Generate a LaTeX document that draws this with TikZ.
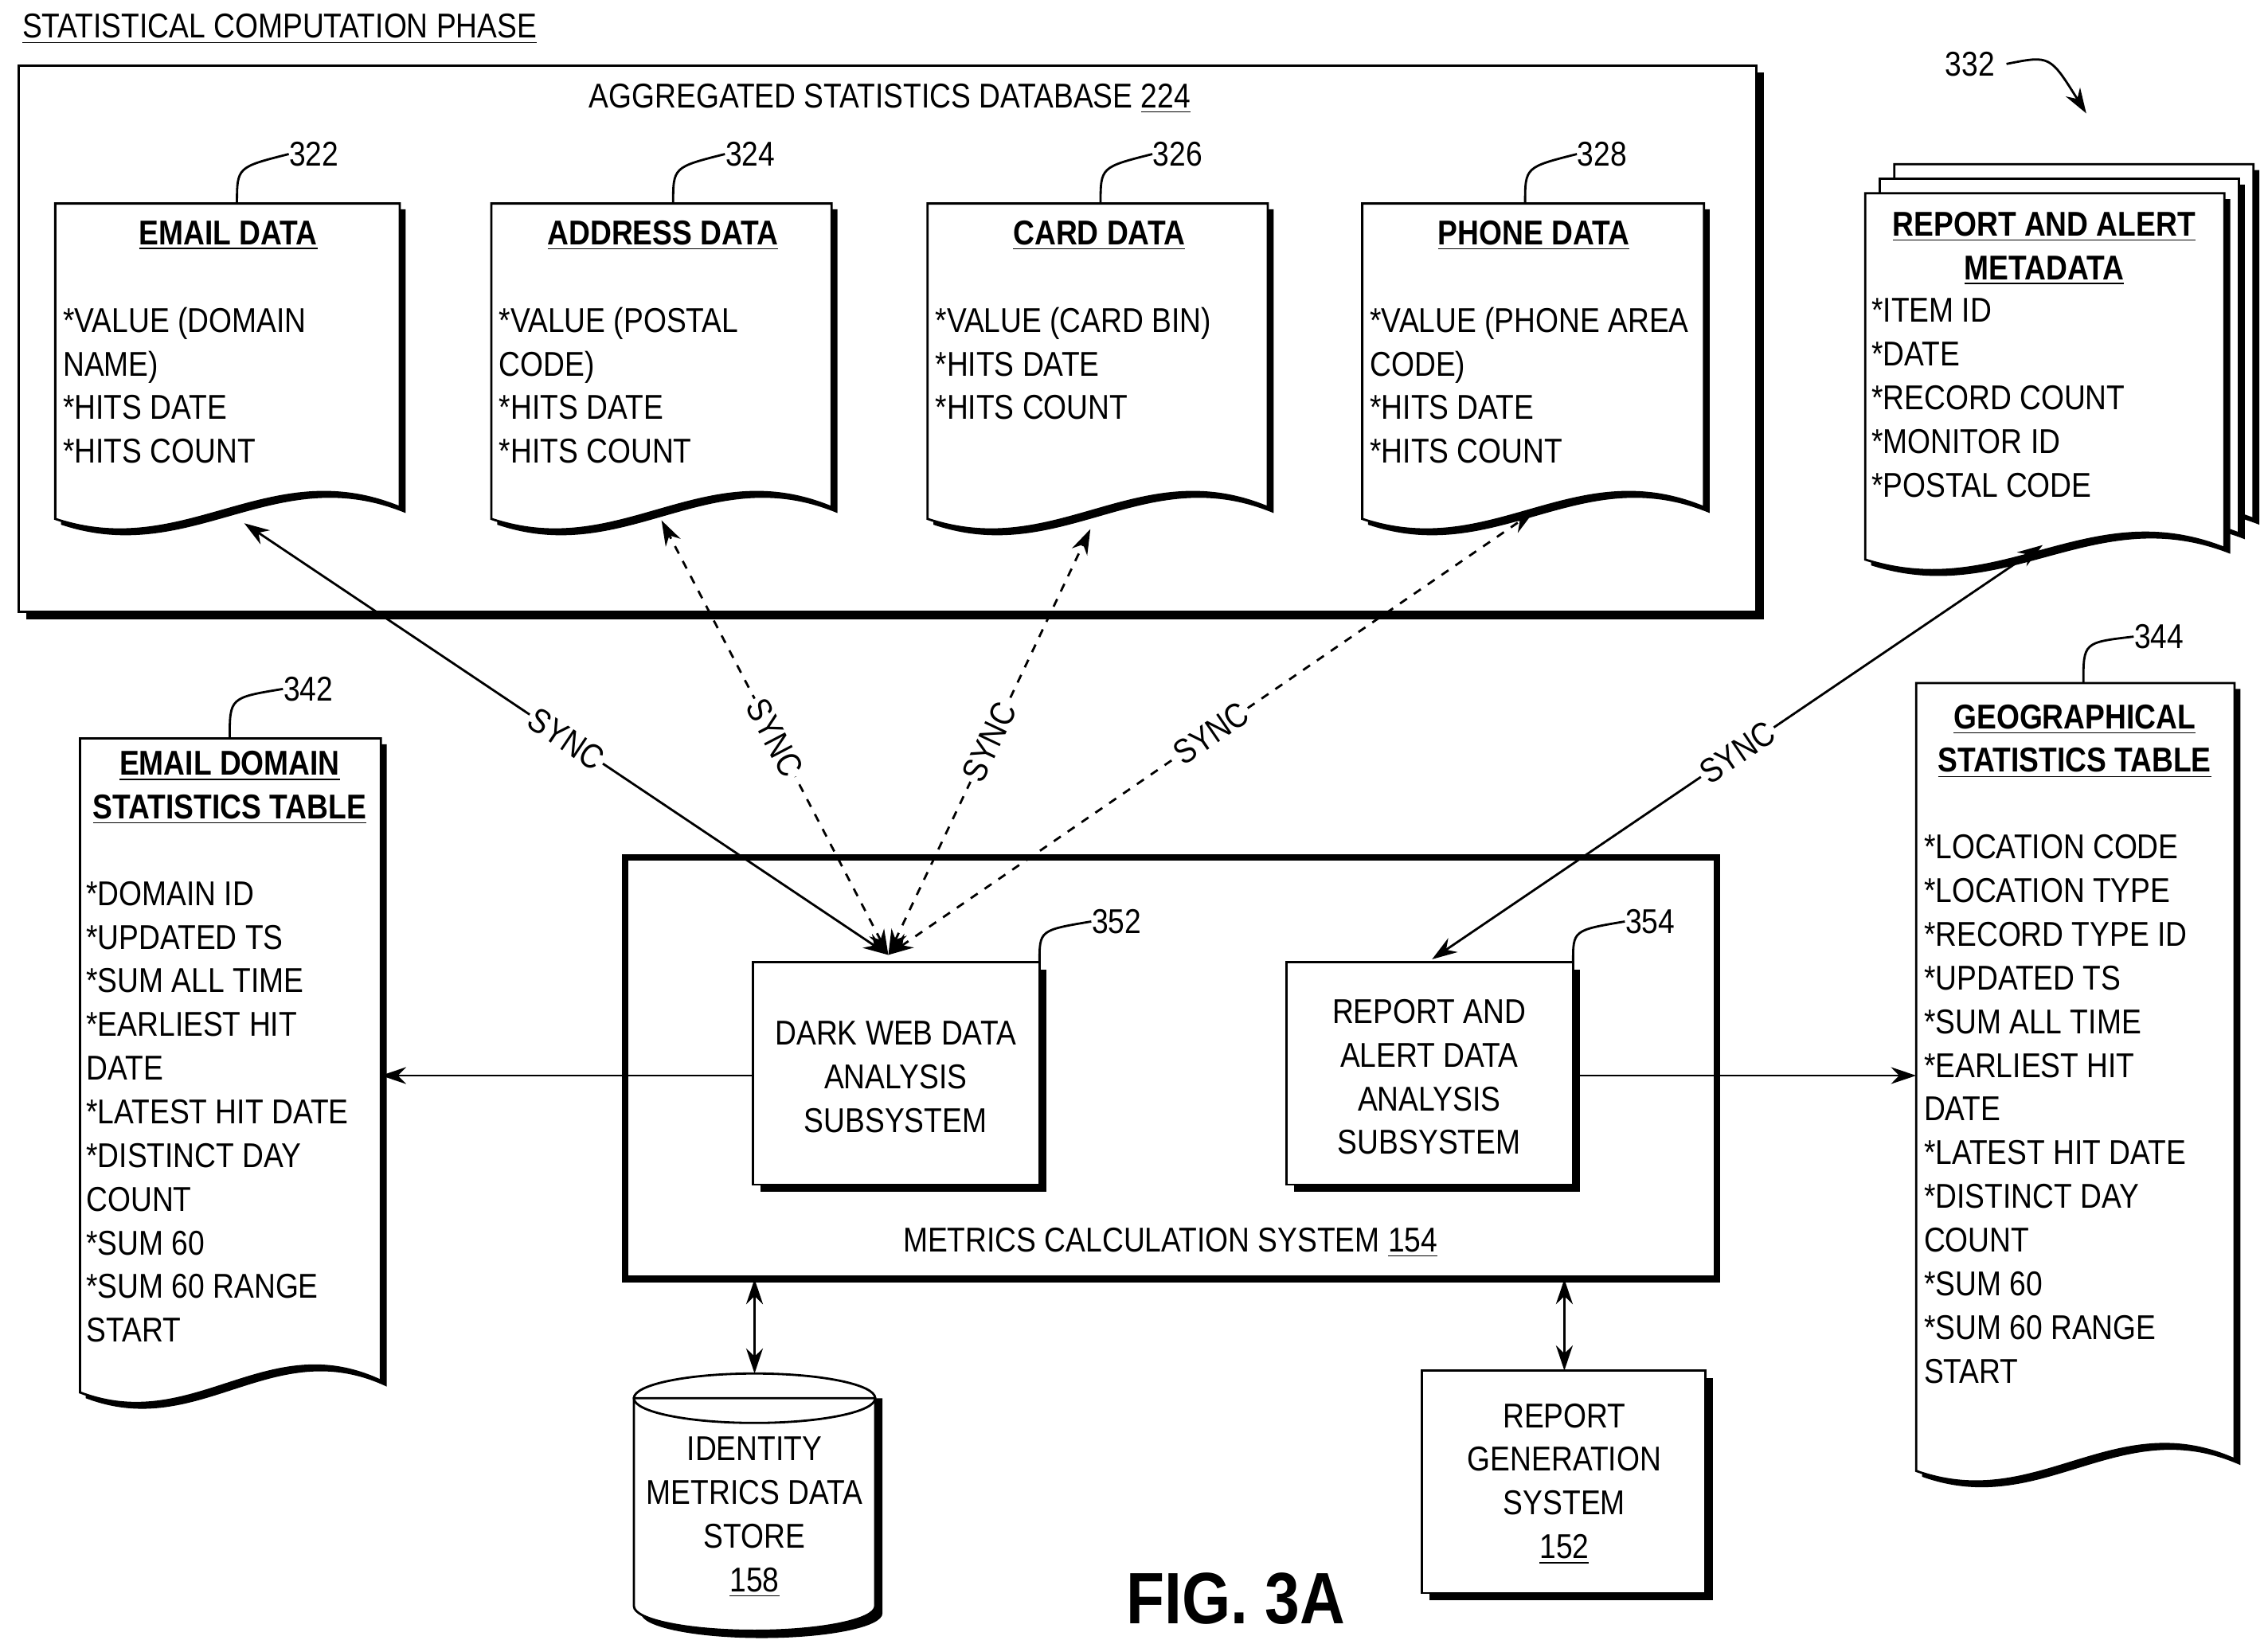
\documentclass[tikz,border=0pt]{standalone}
\usepackage{fontspec}
\setmainfont{Liberation Sans}[FakeStretch=0.86]
\usetikzlibrary{arrows.meta,positioning}

\tikzset{
	txt/.style={inner sep=0pt,font=\fontsize{12.3pt}{15.6pt}\selectfont},
	body/.style={txt,align=left,anchor=north west},
	ttl/.style={txt,align=center,font=\fontsize{12.3pt}{15.6pt}\selectfont\bfseries},
	line/.style={line width=0.8pt},
	link/.style={line,{Stealth[length=9pt,width=6pt]}-{Stealth[length=9pt,width=6pt]}},
	arr/.style={line,-{Stealth[length=9pt,width=6pt]}},
	sync/.style={txt,sloped,fill=white,inner sep=1pt,pos=0.5}
}

% document sheet with wavy bottom and shadow
\newcommand{\docsheet}[4]{%
	\fill[black,shift={(4,4)}] (#1,#2) -- (#3,#2) -- (#3,#4-8) .. controls ({#1+0.62*(#3-#1)},{#4-45}) and ({#1+0.38*(#3-#1)},{#4+30}) .. (#1,#4) -- cycle;
	\filldraw[fill=white,line] (#1,#2) -- (#3,#2) -- (#3,#4-8) .. controls ({#1+0.62*(#3-#1)},{#4-45}) and ({#1+0.38*(#3-#1)},{#4+30}) .. (#1,#4) -- cycle;
}
\newcommand{\shadowbox}[5]{%
	\fill[black] (#1+5,#2+5) rectangle (#3+5,#4+5);
	\filldraw[fill=white,line width=#5] (#1,#2) rectangle (#3,#4);
}

\begin{document}
\begin{tikzpicture}[x=0.018256cm,y=-0.018256cm]
	\useasboundingbox (0,0) rectangle (1560,1128);

	%title
	\node[txt,anchor=west] (phase) at (15,20) {\underline{STATISTICAL COMPUTATION PHASE}};

	%database box
	\shadowbox{13}{45}{1208}{421}{0.8pt}
	\node[txt] (db) at (612,68) {AGGREGATED STATISTICS DATABASE \underline{224}};

	%documents
	\docsheet{38}{140}{275}{357}
	\docsheet{338}{140}{572}{357}
	\docsheet{638}{140}{872}{357}
	\docsheet{937}{140}{1172}{357}
	\node[ttl] (email) at (157,162) {\underline{EMAIL DATA}};
	\node[ttl] (address) at (456,162) {\underline{ADDRESS DATA}};
	\node[ttl] (card) at (756,162) {\underline{CARD DATA}};
	\node[ttl] (phone) at (1055,162) {\underline{PHONE DATA}};
	\node[body] (emailb) at (43,211) {*VALUE (DOMAIN\\NAME)\\*HITS DATE\\*HITS COUNT};
	\node[body] (addressb) at (343,211) {*VALUE (POSTAL\\CODE)\\*HITS DATE\\*HITS COUNT};
	\node[body] (cardb) at (643,211) {*VALUE (CARD BIN)\\*HITS DATE\\*HITS COUNT};
	\node[body] (phoneb) at (942,211) {*VALUE (PHONE AREA\\CODE)\\*HITS DATE\\*HITS COUNT};

	%reference numerals
	\node[txt] (n322) at (216,106) {322};
	\node[txt] (n324) at (516,106) {324};
	\node[txt] (n326) at (810,106) {326};
	\node[txt] (n328) at (1102,106) {328};
	\draw[line] (163,140) .. controls (163,115) .. (n322.west);
	\draw[line] (463,140) .. controls (463,115) .. (n324.west);
	\draw[line] (757,140) .. controls (757,115) .. (n326.west);
	\draw[line] (1049,140) .. controls (1049,115) .. (n328.west);

	%report and alert metadata stack
	\docsheet{1303}{113}{1550}{365}
	\docsheet{1293}{123}{1540}{375}
	\docsheet{1283}{133}{1530}{385}
	\node[ttl] (meta) at (1406,171) {\underline{REPORT AND ALERT}\\\underline{METADATA}};
	\node[body] (metab) at (1287,205) {*ITEM ID\\*DATE\\*RECORD COUNT\\*MONITOR ID\\*POSTAL CODE};
	\node[txt] (n332) at (1355,44) {332};
	\draw[line,-{Stealth[length=9pt,width=6pt]}] ([xshift=4pt]n332.east) .. controls (1410,38) .. (1435,78);

	%email domain statistics table
	\docsheet{55}{508}{262}{958}
	\node[ttl] (edst) at (158,542) {\underline{EMAIL DOMAIN}\\\underline{STATISTICS TABLE}};
	\node[body] (edstb) at (59,606) {*DOMAIN ID\\*UPDATED TS\\*SUM ALL TIME\\*EARLIEST HIT\\DATE\\*LATEST HIT DATE\\*DISTINCT DAY\\COUNT\\*SUM 60\\*SUM 60 RANGE\\START};
	\node[txt] (n342) at (212,474) {342};
	\draw[line] (158,508) .. controls (158,480) .. (n342.west);

	%geographical statistics table
	\docsheet{1318}{470}{1537}{1012}
	\node[ttl] (geo) at (1427,510) {\underline{GEOGRAPHICAL}\\\underline{STATISTICS TABLE}};
	\node[body] (geob) at (1323,574) {*LOCATION CODE\\*LOCATION TYPE\\*RECORD TYPE ID\\*UPDATED TS\\*SUM ALL TIME\\*EARLIEST HIT\\DATE\\*LATEST HIT DATE\\*DISTINCT DAY\\COUNT\\*SUM 60\\*SUM 60 RANGE\\START};
	\node[txt] (n344) at (1485,438) {344};
	\draw[line] (1433,470) .. controls (1433,442) .. (n344.west);

	%metrics calculation system
	\filldraw[fill=white,line width=2.4pt] (430,590) rectangle (1181,880);
	\node[txt] (mcs) at (805,855) {METRICS CALCULATION SYSTEM \underline{154}};
	\shadowbox{518}{662}{715}{815}{0.8pt}
	\shadowbox{885}{662}{1082}{815}{0.8pt}
	\node[txt,align=center] (dark) at (616,741) {DARK WEB DATA\\ANALYSIS\\SUBSYSTEM};
	\node[txt,align=center] (rep) at (983,741) {REPORT AND\\ALERT DATA\\ANALYSIS\\SUBSYSTEM};
	\node[txt] (n352) at (768,634) {352};
	\node[txt] (n354) at (1135,634) {354};
	\draw[line] (715,662) .. controls (715,640) .. (n352.west);
	\draw[line] (1082,662) .. controls (1082,640) .. (n354.west);

	%identity metrics data store
	\fill[black] (441,962) -- (441,1110) arc (180:0:83 and 17) -- (607,962) -- cycle;
	\filldraw[fill=white,line] (436,962) -- (436,1105) arc (180:0:83 and 17) -- (602,962) -- cycle;
	\draw[line] (519,962) ellipse [x radius=83,y radius=17];
	\node[txt,align=center] (store) at (519,1044) {IDENTITY\\METRICS DATA\\STORE\\\underline{158}};

	%report generation system
	\shadowbox{978}{943}{1173}{1096}{0.8pt}
	\node[txt,align=center] (gen) at (1076,1021) {REPORT\\GENERATION\\SYSTEM\\\underline{152}};

	\node[inner sep=0pt,font=\fontsize{26pt}{30pt}\selectfont\bfseries] (fig) at (850,1100) {FIG. 3A};

	%connection points
	\coordinate (darktop) at (611,657);
	\coordinate (reptop) at (985,660);
	\coordinate (emailend) at (168,360);
	\coordinate (addressend) at (455,358);
	\coordinate (cardend) at (750,364);
	\coordinate (phoneend) at (1055,352);
	\coordinate (metaend) at (1405,375);

	%sync arrows
	\draw[link] (darktop) -- node[sync] {SYNC} (emailend);
	\draw[link,dashed] (darktop) -- node[sync] {SYNC} (addressend);
	\draw[link,dashed] (darktop) -- node[sync] {SYNC} (cardend);
	\draw[link,dashed] (darktop) -- node[sync] {SYNC} (phoneend);
	\draw[link] (reptop) -- node[sync] {SYNC} (metaend);

	%output arrows
	\draw[arr] (518,740) -- (262,740);
	\draw[arr] (1082,740) -- (1318,740);
	\draw[link] (519,880) -- (519,945);
	\draw[link] (1076,880) -- (1076,943);
\end{tikzpicture}
\end{document}
